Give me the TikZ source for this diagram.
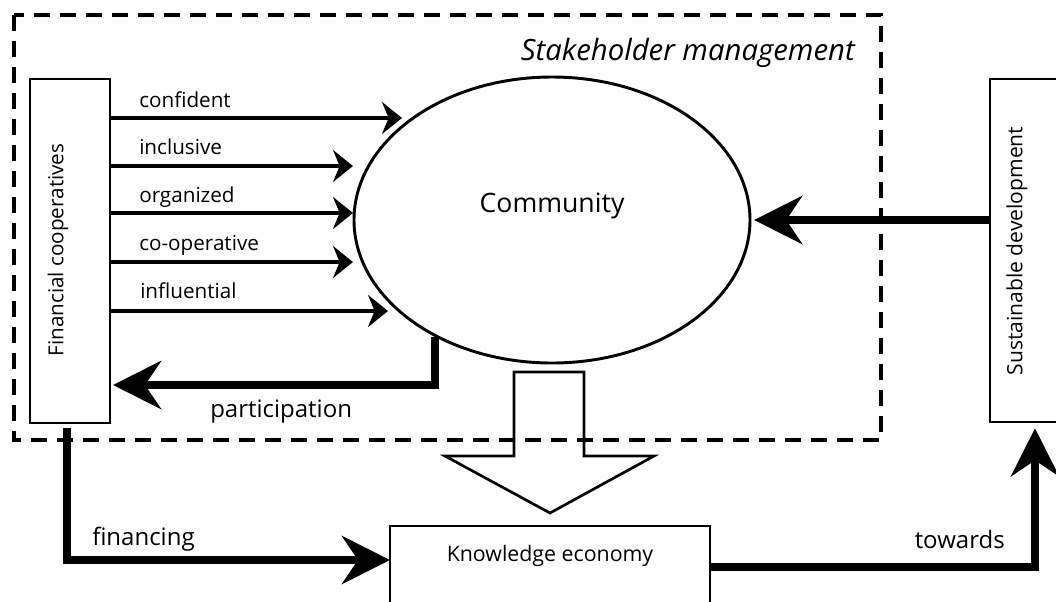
\documentclass[tikz,border=0pt]{standalone}
\usepackage{fontspec}
\setmainfont{Open Sans}
\usetikzlibrary{arrows.meta,shapes.geometric}
\begin{document}
\begin{tikzpicture}[x=0.75pt,y=-0.75pt,
  box/.style={draw,line width=1.4pt,rectangle,inner sep=0pt},
  thinarrow/.style={line width=2.8pt,-{Stealth[length=15pt,width=24pt,inset=5pt]}},
  bigarrow/.style={line width=6pt,-{Stealth[length=36pt,width=36pt,inset=12pt]}},
  lbl/.style={font=\fontsize{15.5}{18}\selectfont,inner sep=0pt},
  biglbl/.style={font=\fontsize{18}{21}\selectfont,inner sep=0pt}]
\useasboundingbox (0,0) rectangle (1056,601);

% stakeholder management frame
\draw[line width=3pt,dash pattern=on 12pt off 7.5pt] (14,15) rectangle (881,440);
\node[anchor=base east,inner sep=0pt,font=\fontsize{22}{26}\selectfont\itshape] (sm) at (855,60) {Stakeholder management};

% boxes
\node[box,minimum width=60pt,minimum height=258pt] (fin) at (70,251) {};
\node[lbl,rotate=90] (finlbl) at (58,250) {Financial cooperatives};
\node[box,minimum width=67.5pt,minimum height=257.25pt] (sus) at (1035,250.5) {};
\node[font=\fontsize{15.8}{18}\selectfont,inner sep=0pt,rotate=90] (suslbl) at (1017,251) {Sustainable development};
\node[box,minimum width=240pt,minimum height=78pt] (know) at (550,578) {};
\node[anchor=base,inner sep=0pt,font=\fontsize{16}{19}\selectfont] (knowlbl) at (550,561) {Knowledge economy};

% community
\node[draw,ellipse,line width=2.2pt,minimum width=297pt,minimum height=214.5pt,inner sep=0pt] (comm) at (552,220) {};
\node[anchor=base,inner sep=0pt,font=\fontsize{20}{24}\selectfont] (commlbl) at (552,212) {Community};

% qualities flowing from cooperatives to the community
\coordinate (t1) at (402,118);
\coordinate (t2) at (353,166);
\coordinate (t3) at (353,213);
\coordinate (t4) at (353,262);
\coordinate (t5) at (388,311);
\draw[thinarrow] (fin.east |- t1) -- (t1);
\draw[thinarrow] (fin.east |- t2) -- (t2);
\draw[thinarrow] (fin.east |- t3) -- (t3);
\draw[thinarrow] (fin.east |- t4) -- (t4);
\draw[thinarrow] (fin.east |- t5) -- (t5);
\node[lbl,anchor=base west] (l1) at (139,107) {confident};
\node[lbl,anchor=base west] (l2) at (139,154) {inclusive};
\node[lbl,anchor=base west] (l3) at (139,202) {organized};
\node[lbl,anchor=base west] (l4) at (139,250) {co-operative};
\node[lbl,anchor=base west] (l5) at (140,298) {influential};

% participation
\coordinate (pend) at (113,385);
\draw[bigarrow] (comm.225) |- (pend);
\node[biglbl,anchor=base west] (plbl) at (210,417) {participation};

% sustainable development feeds the community
\draw[bigarrow] (sus.west |- comm.east) -- ([xshift=2pt]comm.east);

% community to knowledge economy
\draw[line width=2pt,line join=miter] (514,372) -- (584,372) -- (584,456) -- (654,456)
  -- (550,513) -- (445,456) -- (514,456) -- cycle;

% financing
\coordinate (fstart) at (67,428);
\coordinate (fend) at (390,560);
\draw[bigarrow] (fstart) |- (fend);
\node[biglbl,anchor=base west] (flbl) at (92,545) {financing};

% towards
\coordinate (tstart) at (710,567);
\draw[line width=5.5pt,-{Stealth[length=36pt,width=36pt,inset=12pt]}] (tstart) -| ([yshift=-4pt]sus.south);
\node[biglbl,anchor=base east] (tlbl) at (1005,548) {towards};
\end{tikzpicture}
\end{document}
